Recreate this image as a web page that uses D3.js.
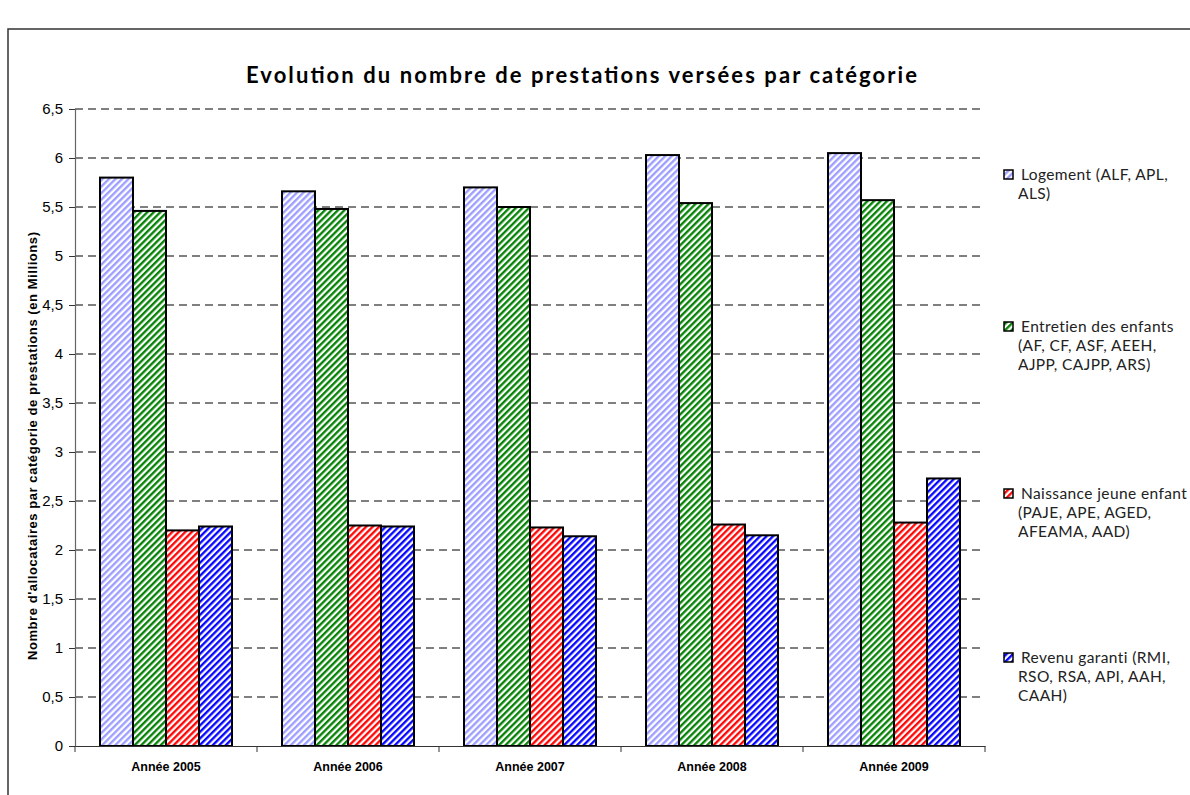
<!DOCTYPE html>
<html><head><meta charset="utf-8">
<script src="https://cdn.jsdelivr.net/npm/d3@7"></script>
<style>body{margin:0;background:#fff}svg{display:block}</style>
</head><body>
<svg id="c" width="1190" height="795"></svg>
<script>
const categories = ["Année 2005","Année 2006","Année 2007","Année 2008","Année 2009"];
const seriesNames = ["Logement","Entretien","Naissance","Revenu"];
const logement  = [5.80, 5.66, 5.70, 6.03, 6.05];
const entretien = [5.46, 5.48, 5.50, 5.54, 5.57];
const naissance = [2.20, 2.25, 2.23, 2.26, 2.28];
const revenu    = [2.24, 2.24, 2.14, 2.15, 2.73];
const yTicks = [0,0.5,1,1.5,2,2.5,3,3.5,4,4.5,5,5.5,6,6.5];
const legendLines = [
  ["Logement (ALF, APL,","ALS)"],
  ["Entretien des enfants","(AF, CF, ASF, AEEH,","AJPP, CAJPP, ARS)"],
  ["Naissance jeune enfant","(PAJE, APE, AGED,","AFEAMA, AAD)"],
  ["Revenu garanti (RMI,","RSO, RSA, API, AAH,","CAAH)"]
];
const colors = ["#9c9cff","#008000","#ff0000","#0000ff"];
const values = [logement, entretien, naissance, revenu];

const svg = d3.select("#c");
const pLeft=75, pRight=985, pTop=109, pBottom=746;

// patterns
const defs = svg.append("defs");
colors.forEach((c,i)=>{
  const p = defs.append("pattern").attr("id","p"+i).attr("patternUnits","userSpaceOnUse")
    .attr("width",4.6).attr("height",4.6).attr("patternTransform","rotate(45)");
  p.append("rect").attr("width",4.6).attr("height",4.6).attr("fill","#fff");
  p.append("line").attr("x1",1.2).attr("y1",0).attr("x2",1.2).attr("y2",4.6)
    .attr("stroke",c).attr("stroke-width",2.3);
});

// outer border
svg.append("rect").attr("x",8).attr("y",29).attr("width",1200).attr("height",800)
  .attr("fill","none").attr("stroke","#333").attr("stroke-width",1.5);

const x0 = d3.scaleBand().domain(categories).range([pLeft,pRight]).paddingInner(0).paddingOuter(0);
const inner = 132/182;
const x1 = d3.scaleBand().domain(seriesNames).range([0,x0.bandwidth()*inner]);
const y = d3.scaleLinear().domain([0,6.5]).range([pBottom,pTop]);

// grid
svg.append("g").selectAll("line").data(yTicks.filter(d=>d>0)).join("line")
  .attr("x1",pLeft).attr("x2",pRight).attr("y1",d=>y(d)).attr("y2",d=>y(d))
  .attr("stroke","#000").attr("stroke-width",1).attr("stroke-dasharray","8,5");

// bars
const offset = x0.bandwidth()*(1-inner)/2;
seriesNames.forEach((s,si)=>{
  svg.append("g").selectAll("rect").data(categories).join("rect")
    .attr("x",d=>x0(d)+offset+x1(s))
    .attr("y",(d,i)=>y(values[si][i]))
    .attr("width",x1.bandwidth())
    .attr("height",(d,i)=>pBottom-y(values[si][i]))
    .attr("fill","url(#p"+si+")").attr("stroke","#000").attr("stroke-width",2);
});

// y axis
const ya = svg.append("g").attr("transform",`translate(${pLeft},0)`)
  .call(d3.axisLeft(y).tickValues(yTicks).tickSize(6).tickPadding(6)
    .tickFormat(d=>String(d).replace(".",",")));
ya.select(".domain").attr("stroke","#666").attr("stroke-width",1.2);
ya.selectAll(".tick line").attr("stroke","#333");
ya.selectAll("text").attr("font-family","Liberation Sans, Arial, sans-serif").attr("font-size",15).attr("fill","#000");

// x axis
const xa = svg.append("g").attr("transform",`translate(0,${pBottom})`)
  .call(d3.axisBottom(x0).tickSize(0).tickPadding(16));
xa.select(".domain").attr("stroke","#333").attr("stroke-width",1.2);
xa.selectAll("text").attr("font-family","Liberation Sans, Arial, sans-serif").attr("font-size",12.5)
  .attr("font-weight","bold").attr("fill","#000");
svg.append("g").selectAll("line").data(d3.range(categories.length+1)).join("line")
  .attr("x1",i=>pLeft+i*x0.step()).attr("x2",i=>pLeft+i*x0.step())
  .attr("y1",pBottom).attr("y2",pBottom+6).attr("stroke","#333");

// title
svg.append("text").attr("x",246).attr("y",83)
  .attr("font-family","Lato, Open Sans, sans-serif").attr("font-weight","bold").attr("font-size",22)
  .attr("textLength",671).attr("lengthAdjust","spacing").attr("fill","#000")
  .text("Evolution du nombre de prestations versées par catégorie");

// y label
svg.append("text").attr("transform","translate(37,660) rotate(-90)")
  .attr("font-family","Liberation Sans, Arial, sans-serif").attr("font-weight","bold").attr("font-size",13)
  .attr("textLength",428).attr("lengthAdjust","spacing").attr("fill","#000")
  .text("Nombre d'allocataires par catégorie de prestations (en Millions)");

// legend
const legY = [180, 332, 499, 663];
legendLines.forEach((lines,i)=>{
  const g = svg.append("g");
  g.append("rect").attr("x",1004).attr("y",legY[i]-10).attr("width",9).attr("height",9)
    .attr("fill","url(#p"+i+")").attr("stroke","#000").attr("stroke-width",1.5);
  lines.forEach((t,j)=>{
    g.append("text").attr("x",j===0?1021:1018).attr("y",legY[i]+j*19)
      .attr("font-family","Lato, Open Sans, sans-serif").attr("font-size",15.5)
      .attr("letter-spacing",0.4).attr("fill","#222").text(t);
  });
});
</script>
</body></html>
